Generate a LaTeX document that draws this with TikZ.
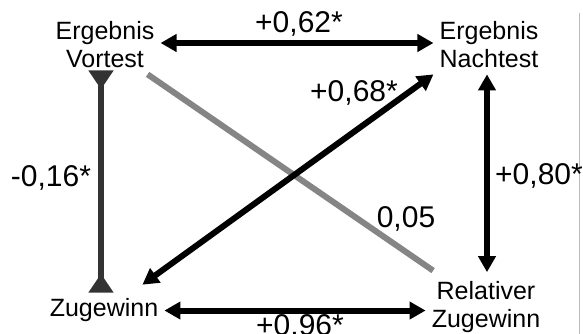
\documentclass[tikz,border=0pt]{standalone}
\usepackage{fontspec}
\setmainfont{Liberation Sans}
\usetikzlibrary{arrows.meta}
\definecolor{darkline}{HTML}{333333}
\definecolor{greyline}{HTML}{858585}
\definecolor{edgepink}{HTML}{F4A3A3}
\begin{document}
\begin{tikzpicture}[x=1pt,y=1pt,var/.style={align=center,inner sep=6pt,font=\fontsize{25}{28}\selectfont},coef/.style={inner sep=0pt,font=\fontsize{30}{34}\selectfont},dbl/.style={line width=6pt,{Triangle[length=16pt,width=17pt]}-{Triangle[length=16pt,width=17pt]}}]
\useasboundingbox (0,0) rectangle (583,334);
\draw[edgepink,line width=1pt] (579,0)--(579,321);
\node[var] (vor) at (105,289) {Ergebnis\\Vortest};\node[var] (nach) at (489,289) {Ergebnis\\Nachtest};
\node[var,anchor=base] (zug) at (104,17) {Zugewinn};\node[var] (rel) at (486,27) {Relativer\\Zugewinn};
\draw[greyline,line width=6pt,shorten >=8pt] (vor)--(rel);
\draw[dbl] ([yshift=2pt]vor.east)--([yshift=2pt]nach.west);
\draw[dbl] (zug.east)--(zug.east-|rel.west);
\draw[dbl,shorten >=3pt] ([xshift=-2pt]nach.south)--([xshift=-2pt]nach.south|-rel.north);
\draw[dbl] ([shift={(-22,8)}]zug.north east)--(nach.south west);
\draw[darkline,line width=6pt,shorten <=-4pt,{Triangle[reversed,length=19pt,width=24pt]}-{Triangle[reversed,length=19pt,width=24pt]}] ([xshift=-4pt]vor.south)--([xshift=-4pt]vor.south|-zug.north);
\node[coef] (c62) at (299,310) {+0,62*};\node[coef] (c68) at (354,241) {+0,68*};
\node[coef] (c16) at (51,156) {-0,16*};\node[coef] (c80) at (539,158) {+0,80*};
\node[coef] (c05) at (406,115) {0,05};\node[coef] (c96) at (300,7) {+0,96*};
\end{tikzpicture}
\end{document}
